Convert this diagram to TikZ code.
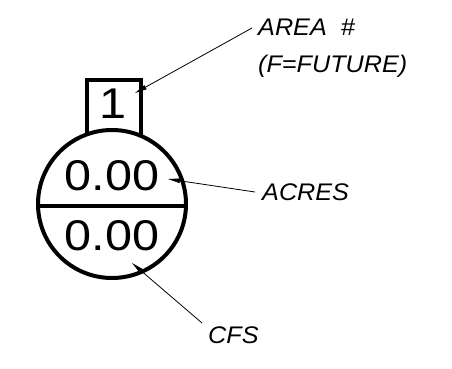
\documentclass[tikz,border=0pt]{standalone}
\usepackage{fontspec}
\setmainfont{Liberation Sans}
\newfontfamily\numfont[FakeStretch=1.13]{Liberation Sans}
\newfontfamily\lblfont[FakeStretch=1.05]{Liberation Sans}
\usetikzlibrary{arrows.meta}
\tikzset{
  heavy/.style={line width=4pt},
  numtxt/.style={inner sep=0pt, anchor=base, font=\numfont\fontsize{43}{43}\selectfont},
  lbltxt/.style={inner sep=0pt, anchor=base west, font=\lblfont\itshape\fontsize{24}{24}\selectfont},
  leader/.style={line width=0.8pt, -{Triangle[length=12pt,width=4.5pt]}}
}
\begin{document}
\begin{tikzpicture}[x=1pt,y=-1pt]
\useasboundingbox (0,0) rectangle (452,368);
% circle and divider
\node[draw, heavy, circle, minimum size=148pt, inner sep=0pt] (c) at (112,204) {};
\draw[heavy] (38,206) -- (186,206);
% box
\draw[heavy, line join=miter] (87,135) -- (87,80) -- (141,80) -- (141,136);
% numbers
\node[numtxt] (one) at (113,118) {1};
\node[numtxt] (acv) at (112,190) {0.00};
\node[numtxt] (cfv) at (112,250) {0.00};
% labels
\node[lbltxt] (area) at (258,35) {AREA\hspace{14pt}\#};
\node[lbltxt] (fut) at (258,72) {(F=FUTURE)};
\node[lbltxt] (acres) at (262,200) {ACRES};
\node[lbltxt] (cfs) at (208,343) {CFS};
% leader ends
\coordinate (a1) at (252,28);
\coordinate (t1) at (135,93);
\coordinate (a2) at (255,192);
\coordinate (t2) at (168,179);
\coordinate (a3) at (202,323);
\coordinate (t3) at (132,263);
\draw[leader] (a1) -- (t1);
\draw[leader] (a2) -- (t2);
\draw[leader] (a3) -- (t3);
\end{tikzpicture}
\end{document}
